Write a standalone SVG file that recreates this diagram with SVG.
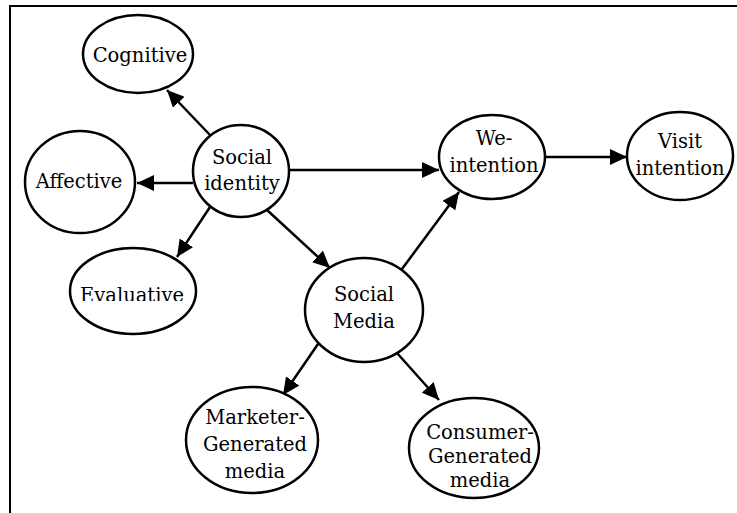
<svg xmlns="http://www.w3.org/2000/svg" width="737" height="513" viewBox="0 0 737 513">
<defs>
<style>
.n{fill:#fff;stroke:#000;stroke-width:2.5}
.t{font-family:'DejaVu Serif',serif;font-size:19.5px;fill:#000;text-anchor:middle}
.c{stroke:#000;stroke-width:2.5;fill:none;marker-end:url(#ah)}
.f{stroke:#000;stroke-width:2;fill:none}
</style>
<marker id="ah" markerUnits="userSpaceOnUse" markerWidth="18" markerHeight="16" refX="17" refY="8" orient="auto">
<path d="M0,0 L17,8 L0,16 Z" fill="#000"/>
</marker>
<clipPath id="evclip"><rect x="60" y="240" width="150" height="61"/></clipPath>
</defs>
<rect width="737" height="513" fill="#fff"/>
<g id="frame">
<path class="f" d="M10,513 V6 H737"/>
</g>
<g id="connectors">
<line class="c" x1="210" y1="135" x2="167" y2="90"/>
<line class="c" x1="193" y1="183" x2="137" y2="183"/>
<line class="c" x1="210" y1="207" x2="177" y2="257"/>
<line class="c" x1="267" y1="210" x2="330" y2="268"/>
<line class="c" x1="290" y1="170" x2="439" y2="170"/>
<line class="c" x1="402" y1="269" x2="459" y2="192"/>
<line class="c" x1="546" y1="157" x2="627" y2="157"/>
<line class="c" x1="318" y1="344" x2="283" y2="395"/>
<line class="c" x1="397" y1="353" x2="439" y2="400"/>
</g>
<g id="cognitive">
<ellipse class="n" cx="138" cy="54" rx="55" ry="39"/>
<text class="t" x="140" y="62">Cognitive</text>
</g>
<g id="affective">
<ellipse class="n" cx="80" cy="182" rx="55" ry="51"/>
<text class="t" x="79" y="188">Affective</text>
</g>
<g id="social-identity">
<ellipse class="n" cx="241" cy="171" rx="48" ry="46"/>
<text class="t" x="242" y="164">Social</text>
<text class="t" x="242" y="190">identity</text>
</g>
<g id="evaluative">
<ellipse class="n" cx="133" cy="291" rx="63" ry="43"/>
<text class="t" x="132" y="302" clip-path="url(#evclip)">Evaluative</text>
</g>
<g id="social-media">
<ellipse class="n" cx="364" cy="310" rx="59" ry="52"/>
<text class="t" x="364" y="301">Social</text>
<text class="t" x="364" y="328">Media</text>
</g>
<g id="we-intention">
<ellipse class="n" cx="492" cy="157" rx="53" ry="42"/>
<text class="t" x="494" y="145">We-</text>
<text class="t" x="494" y="172">intention</text>
</g>
<g id="visit-intention">
<ellipse class="n" cx="680" cy="156" rx="53" ry="44"/>
<text class="t" x="680" y="148">Visit</text>
<text class="t" x="680" y="175">intention</text>
</g>
<g id="marketer-generated">
<ellipse class="n" cx="252" cy="440" rx="66" ry="53"/>
<text class="t" x="255" y="424">Marketer-</text>
<text class="t" x="255" y="451">Generated</text>
<text class="t" x="255" y="478">media</text>
</g>
<g id="consumer-generated">
<ellipse class="n" cx="474" cy="448" rx="65" ry="50"/>
<text class="t" x="480" y="439">Consumer-</text>
<text class="t" x="480" y="463">Generated</text>
<text class="t" x="480" y="487">media</text>
</g>
</svg>
